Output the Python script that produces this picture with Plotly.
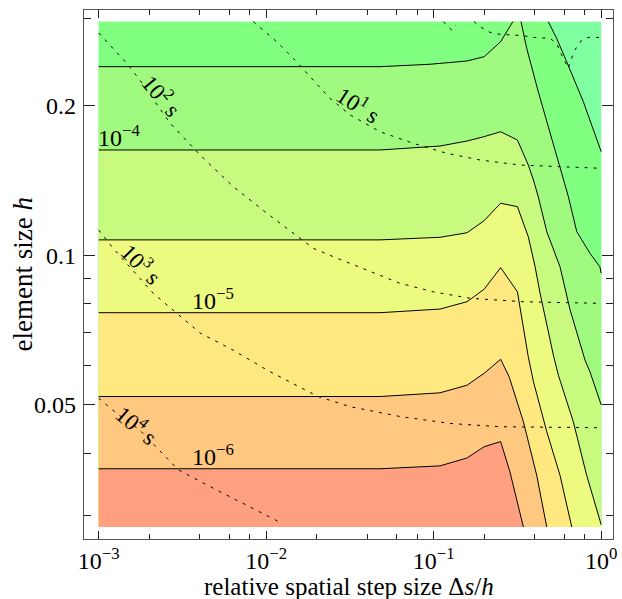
import numpy as np
import plotly.graph_objects as go

# Sampled domain of the study
STEP_MIN, STEP_MAX = 0.001, 1.0      # relative spatial step size Δs/h
H_MIN, H_MAX = 0.0284, 0.2957        # element size h

# Error contour lines (log10 of the error), each as (Δs/h, h) samples.
err_m30_step = [0.483, 0.542, 0.622, 0.782, 1.0]
err_m30_h = [0.2957, 0.2737, 0.2456, 0.2040, 0.1618]

err_m35a_step = [0.001, 0.0478, 0.0951, 0.158, 0.2, 0.251, 0.297]
err_m35a_h = [0.240, 0.240, 0.2427, 0.2464, 0.2513, 0.2695, 0.2957]
err_m35b_step = [0.332, 0.359, 0.421, 0.494, 0.542, 0.608, 0.637, 0.7145, 0.857, 0.982, 1.0]
err_m35b_h = [0.2957, 0.2614, 0.2137, 0.1775, 0.1593, 0.1387, 0.1313, 0.1117, 0.1010, 0.0949, 0.0921]

err_m40_step = [0.001, 0.0478, 0.109, 0.158, 0.2, 0.251, 0.316, 0.367, 0.394, 0.421, 0.473,
                0.5675, 0.652, 0.800, 0.857, 1.0]
err_m40_h = [0.1631, 0.1631, 0.1661, 0.1700, 0.1735, 0.1775, 0.1708, 0.1521, 0.1419, 0.1313, 0.1117,
             0.0949, 0.0777, 0.0616, 0.0583, 0.0500]

err_m45_step = [0.001, 0.0478, 0.109, 0.158, 0.2, 0.251, 0.316, 0.367, 0.403, 0.4315, 0.518,
                0.555, 0.681, 0.8185, 1.0]
err_m45_h = [0.1075, 0.1075, 0.1088, 0.1111, 0.1175, 0.1274, 0.1254, 0.1091, 0.0949, 0.0839, 0.0630,
             0.0574, 0.0463, 0.0361, 0.0287]

err_m50_step = [0.001, 0.0478, 0.109, 0.158, 0.2, 0.251, 0.316, 0.367, 0.394, 0.473, 0.5675, 0.667]
err_m50_h = [0.0767, 0.0767, 0.0780, 0.0807, 0.0855, 0.0945, 0.0845, 0.0625, 0.0557, 0.0442, 0.0361, 0.0284]

err_m55_step = [0.001, 0.0478, 0.109, 0.158, 0.2, 0.251, 0.282, 0.343, 0.412, 0.473]
err_m55_h = [0.0520, 0.0520, 0.0529, 0.0548, 0.0579, 0.0618, 0.0570, 0.0463, 0.0361, 0.0284]

err_m60_step = [0.001, 0.0478, 0.109, 0.158, 0.2, 0.251, 0.285, 0.343]
err_m60_h = [0.0372, 0.0372, 0.0377, 0.0391, 0.0412, 0.0422, 0.0367, 0.0284]

# Computing-time contour lines (seconds), as (Δs/h, h) samples.
time_1e0a_step = [0.1141, 0.1281, 0.1359]
time_1e0a_h = [0.2957, 0.2844, 0.2911]
time_1e0b_step = [0.174, 0.1889, 0.2168, 0.2488, 0.2987, 0.3426, 0.394, 0.494, 0.542, 0.5675,
                  0.608, 0.637, 0.652, 0.6966, 0.7648, 0.8375, 1.0]
time_1e0b_h = [0.2957, 0.2888, 0.2814, 0.2788, 0.2779, 0.2770, 0.2749, 0.2737, 0.2675, 0.2572,
               0.2456, 0.2382, 0.2456, 0.2593, 0.2715, 0.2749, 0.2749]

time_1e1_step = [0.00838, 0.01155, 0.01451, 0.0200, 0.0240, 0.0317, 0.0478, 0.0755, 0.1196,
                 0.1889, 0.3275, 1.0]
time_1e1_h = [0.2957, 0.2695, 0.2495, 0.2222, 0.2073, 0.1919, 0.1775, 0.1682, 0.1606,
              0.1557, 0.1521, 0.1498]

time_1e2_step = [0.001, 0.00147, 0.00176, 0.00267, 0.00403, 0.00636, 0.0101, 0.0191, 0.0252,
                 0.0398, 0.0629, 0.0994, 0.165, 0.343, 1.0]
time_1e2_h = [0.2805, 0.2438, 0.2256, 0.1846, 0.1593, 0.1376, 0.1216, 0.1034, 0.0994,
              0.0935, 0.0879, 0.0845, 0.0820, 0.0807, 0.0801]

time_1e3_step = [0.001, 0.00122, 0.00211, 0.00292, 0.00403, 0.00634, 0.0101, 0.0201, 0.0317,
                 0.0629, 0.125, 0.249, 1.0]
time_1e3_h = [0.1125, 0.1034, 0.0840, 0.0765, 0.0698, 0.0645, 0.0588, 0.0521, 0.0496,
              0.0474, 0.0459, 0.0452, 0.0450]

time_1e4_step = [0.001, 0.00128, 0.00176, 0.00299, 0.00507, 0.0080, 0.0124]
time_1e4_h = [0.0516, 0.0481, 0.0445, 0.0370, 0.0337, 0.0312, 0.0289]

# Labels
err_label_text = ["10<sup>−4</sup>", "10<sup>−5</sup>", "10<sup>−6</sup>"]
err_label_step = [0.001, 0.00367, 0.00367]
err_label_h = [err_m40_h[0], err_m50_h[0], err_m60_h[0]]

time_label_text = ["10<sup>1</sup> s", "10<sup>2</sup> s", "10<sup>3</sup> s", "10<sup>4</sup> s"]
time_label_step = [0.0359, 0.00240, 0.00181, 0.00169]
time_label_h = [0.2017, 0.210, 0.0964, 0.0456]
time_label_angle = [33, 50, 46, 40]

x_tick_vals = [0.001, 0.01, 0.1, 1.0]
x_tick_text = ["10<sup>−3</sup>", "10<sup>−2</sup>", "10<sup>−1</sup>", "10<sup>0</sup>"]
x_minor_vals = [m * 10.0 ** e for e in (-3, -2, -1) for m in (2, 4, 6, 8)]
y_tick_vals = [0.05, 0.1, 0.2]
y_tick_text = ["0.05", "0.1", "0.2"]
y_minor_vals = [0.03, 0.04, 0.06, 0.07, 0.08, 0.09, 0.3]

x_title = "relative spatial step size Δ<i>s</i>/<i>h</i>"
y_title = "element size <i>h</i>"

# Fill colours, from the largest error band down to the smallest
band_colors = ["#80ffa0", "#80ff80", "#a0fa80", "#c8fa80", "#ecfa80", "#ffe880", "#ffc880", "#ffa080"]

levels = [
    [(err_m30_step, err_m30_h)],
    [(err_m35a_step, err_m35a_h), (err_m35b_step, err_m35b_h)],
    [(err_m40_step, err_m40_h)],
    [(err_m45_step, err_m45_h)],
    [(err_m50_step, err_m50_h)],
    [(err_m55_step, err_m55_h)],
    [(err_m60_step, err_m60_h)],
]


def region_below(segments):
    """Polygon of the sampled domain lying below/left of a contour level."""
    xs, ys = [], []
    for sx, sy in segments:
        xs += list(sx)
        ys += list(sy)
    if xs[-1] >= STEP_MAX:
        xs.append(STEP_MAX)
        ys.append(H_MIN)
    xs.append(STEP_MIN)
    ys.append(H_MIN)
    if ys[0] >= H_MAX:
        xs.append(STEP_MIN)
        ys.append(H_MAX)
    xs.append(xs[0])
    ys.append(ys[0])
    return xs, ys


fig = go.Figure()

# background band (largest error)
fig.add_trace(go.Scatter(
    x=[STEP_MIN, STEP_MAX, STEP_MAX, STEP_MIN, STEP_MIN],
    y=[H_MIN, H_MIN, H_MAX, H_MAX, H_MIN],
    mode="lines", fill="toself", fillcolor=band_colors[0],
    line=dict(width=0), hoverinfo="skip", showlegend=False))

for i, segs in enumerate(levels):
    px_, py_ = region_below(segs)
    fig.add_trace(go.Scatter(
        x=px_, y=py_, mode="lines", fill="toself", fillcolor=band_colors[i + 1],
        line=dict(width=0), hoverinfo="skip", showlegend=False))

for segs in levels:
    for sx, sy in segs:
        fig.add_trace(go.Scatter(
            x=sx, y=sy, mode="lines", line=dict(color="black", width=1),
            hoverinfo="skip", showlegend=False))

time_lines = [
    (time_1e0a_step, time_1e0a_h), (time_1e0b_step, time_1e0b_h),
    (time_1e1_step, time_1e1_h), (time_1e2_step, time_1e2_h),
    (time_1e3_step, time_1e3_h), (time_1e4_step, time_1e4_h),
]
for sx, sy in time_lines:
    fig.add_trace(go.Scatter(
        x=sx, y=sy, mode="lines",
        line=dict(color="black", width=1, dash="3px,6px"),
        hoverinfo="skip", showlegend=False))

FONT = "Liberation Serif, Times New Roman, serif"

for txt, sx, sh in zip(err_label_text, err_label_step, err_label_h):
    fig.add_annotation(x=np.log10(sx), y=np.log10(sh), text=txt, showarrow=False,
                       xanchor="left", yanchor="bottom", xshift=-3, yshift=-3,
                       font=dict(family=FONT, size=24, color="black"))

for txt, sx, sh, ang in zip(time_label_text, time_label_step, time_label_h, time_label_angle):
    fig.add_annotation(x=np.log10(sx), y=np.log10(sh), text=txt, showarrow=False,
                       textangle=ang, xanchor="center", yanchor="middle",
                       font=dict(family=FONT, size=23, color="black"))

# axis titles, placed relative to the plotting area
fig.add_annotation(xref="paper", yref="paper", x=0.5, y=0, text=x_title,
                   showarrow=False, xanchor="center", yanchor="middle", yshift=-47,
                   borderpad=0, font=dict(family=FONT, size=25, color="black"))
fig.add_annotation(xref="paper", yref="paper", x=0, y=0.5, text=y_title,
                   showarrow=False, xanchor="center", yanchor="middle", xshift=-62,
                   textangle=-90, font=dict(family=FONT, size=27, color="black"))

axis_common = dict(
    type="log", showgrid=False, zeroline=False, automargin=False,
    showline=True, linecolor="#555555", linewidth=1.3, mirror="allticks",
    ticks="inside", tickcolor="#222222", tickwidth=1,
    tickfont=dict(family=FONT, size=24, color="black"),
)

fig.update_xaxes(
    **axis_common,
    range=[-3.0878, 0.0704],
    tickmode="array", tickvals=x_tick_vals, ticktext=x_tick_text, ticklen=8,
    ticklabelstandoff=0,
    minor=dict(tickmode="array", tickvals=x_minor_vals, ticks="inside", ticklen=5,
               tickcolor="#222222", tickwidth=1, showgrid=False),
)
fig.update_yaxes(
    **axis_common,
    range=[-1.5709, -0.5057],
    tickmode="array", tickvals=y_tick_vals, ticktext=y_tick_text, ticklen=11,
    ticklabelstandoff=2,
    minor=dict(tickmode="array", tickvals=y_minor_vals, ticks="inside", ticklen=7,
               tickcolor="#222222", tickwidth=1, showgrid=False),
)

fig.update_layout(
    width=622, height=599,
    margin=dict(l=84, r=9, t=10, b=60),
    paper_bgcolor="white", plot_bgcolor="white",
    showlegend=False,
)

fig.write_html("out.html")
